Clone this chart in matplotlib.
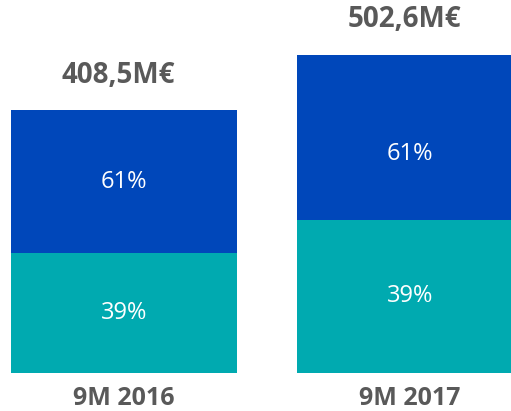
import matplotlib
matplotlib.use("Agg")
import matplotlib.pyplot as plt
import numpy as np

plt.rcParams['font.family'] = ['Open Sans', 'DejaVu Sans']

# data (M€)
periods = ["9M 2016", "9M 2017"]
teal_vals = [188, 240]
blue_vals = [224, 259]
teal_labels = ["39%", "39%"]
blue_labels = ["61%", "61%"]
totals = ["408,5M€", "502,6M€"]

teal = "#00AAB0"
blue = "#0047BA"
grey = "#595959"

fig = plt.figure(figsize=(5.11, 4.11), dpi=100)
ax = fig.add_axes([0, 0, 1, 1])

x = np.arange(len(periods))
w = 0.79
ax.bar(x, teal_vals, w, color=teal)
ax.bar(x, blue_vals, w, bottom=teal_vals, color=blue)

# the 2017 share label sits a bit below the middle of its block
blue_shift = [0, -27]

for i in range(len(periods)):
    t = teal_vals[i]
    b = blue_vals[i]
    ax.text(x[i], t / 2, teal_labels[i], ha='center', va='center',
            color='white', fontsize=17)
    ax.text(x[i], t + b / 2 + blue_shift[i], blue_labels[i], ha='center',
            va='center', color='white', fontsize=17)
    ax.text(x[i] - 0.02, t + b + 55, totals[i], ha='center', va='center',
            color=grey, fontsize=20, fontweight='bold')
    ax.text(x[i], -40, periods[i], ha='center', va='center',
            color=grey, fontsize=18, fontweight='bold')

ax.set_xlim(-0.4336, 1.353)
ax.set_ylim(-59.6, 584.6)
ax.axis('off')

fig.savefig("out.png", dpi=100)
